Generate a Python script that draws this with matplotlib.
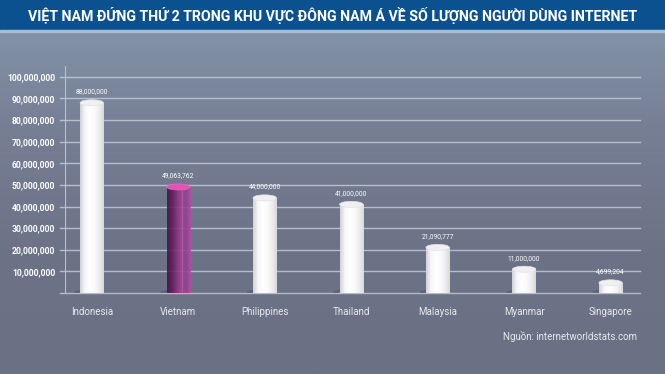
import numpy as np
import matplotlib
matplotlib.use("Agg")
import matplotlib.pyplot as plt
from matplotlib.patches import Ellipse, Rectangle
from matplotlib.colors import LinearSegmentedColormap

countries = ["Indonesia", "Vietnam", "Philippines", "Thailand", "Malaysia", "Myanmar", "Singapore"]
users = [88000000, 49063762, 44000000, 41000000, 21090777, 11000000, 4699204]
value_labels = ["88,000,000", "49,063,762", "44,000,000", "41,000,000", "21,090,777", "11,000,000", "4,699,204"]
highlight = "Vietnam"
yticks = [10000000 * i for i in range(1, 11)]
title = "VIỆT NAM ĐỨNG THỨ 2 TRONG KHU VỰC ĐÔNG NAM Á VỀ SỐ LƯỢNG NGƯỜI DÙNG INTERNET"
source = "Nguồn: internetworldstats.com"

W, H = 665, 374
fig = plt.figure(figsize=(W / 100, H / 100), dpi=100)
renderer = fig.canvas.get_renderer()

# background gradient
bg = fig.add_axes([0, 0, 1, 1], zorder=0)
bg.set_axis_off()
grad = np.linspace(0, 1, 256).reshape(-1, 1)
bg_cmap = LinearSegmentedColormap.from_list("bg", ["#8598ae", "#777f95", "#6c7387", "#6a7184"])
bg.imshow(grad, aspect="auto", cmap=bg_cmap, extent=[0, 1, 0, 1], origin="upper")
# title bar
bg.add_patch(Rectangle((0, 1 - 30 / H), 1, 30 / H, color="#0b5190", transform=bg.transAxes))
bg.add_patch(Rectangle((0, 1 - 32 / H), 1, 2 / H, color="#a9bdd2", transform=bg.transAxes))
bg.set_xlim(0, 1)
bg.set_ylim(0, 1)
t = fig.text(0.5, 1 - 16 / H, title, ha="center", va="center", color="white",
             fontsize=11, fontweight="bold", family=["Roboto", "DejaVu Sans"])
tw = t.get_window_extent(renderer).width
t.set_fontsize(11 * 609 / tw)
fig.text(637 / W, 1 - 337 / H, source, ha="right", va="center", color="#e6e9ee",
         fontsize=7, family=["Roboto", "DejaVu Sans"])

# main axes
left, right = 65 / W, 640 / W
bottom, top = (H - 293) / H, (H - 66) / H
ax = fig.add_axes([left, bottom, right - left, top - bottom], zorder=1)
ax.set_facecolor("none")
x = np.arange(len(countries))
xmin, xmax = -0.31, 6.34
ymax = 105000000
ax.set_xlim(xmin, xmax)
ax.set_ylim(0, ymax)
for s in ax.spines.values():
    s.set_visible(False)
ax.axvline(xmin, color="#b8c2d0", lw=0.8, zorder=1)

for yt in [0] + yticks:
    ax.plot([xmin - 0.06, xmax], [yt, yt], color="#c3cad6", lw=1.0, alpha=0.85,
            clip_on=False, zorder=1)

ax.set_yticks(yticks)
ax.set_yticklabels([f"{v:,}" for v in yticks], color="white", fontsize=6.2,
                   fontweight="bold", family=["Roboto", "DejaVu Sans"])
ax.tick_params(axis="y", length=0, pad=7)
ax.set_xticks(x)
ax.set_xticklabels(countries, color="#e6e9ee", fontsize=7.0, family=["Roboto", "DejaVu Sans"])
ax.tick_params(axis="x", length=0, pad=10)

bw = 0.27
eh = 2800000  # ellipse height in data units
white_cmap = LinearSegmentedColormap.from_list("w", ["#cfd1d5", "#f6f6f8", "#ffffff", "#fbfbfb", "#eceef0", "#d6d8dc"])
purple_cmap = LinearSegmentedColormap.from_list("p", ["#4a1245", "#5c1a57", "#84307c", "#9d4595", "#953f8d", "#b24fa6"])
hgrad = np.linspace(0, 1, 256).reshape(1, -1)

for xi, v, lab, name in zip(x, users, value_labels, countries):
    hl = name == highlight
    cmap = purple_cmap if hl else white_cmap
    cap = "#e055b4" if hl else "#f0f0f2"
    bot_c = "#dc4cae" if hl else "#eeeff1"
    # shadow
    ax.add_patch(Ellipse((xi - 0.06, 300000), bw * 1.1, eh * 0.9, color="#3e4352",
                         alpha=0.35, zorder=2, lw=0))
    # bottom ellipse
    ax.add_patch(Ellipse((xi, 0), bw, eh, facecolor=bot_c, edgecolor="none", zorder=3))
    # body
    rect = Rectangle((xi - bw / 2, 0), bw, v, facecolor="none", edgecolor="none")
    ax.add_patch(rect)
    im = ax.imshow(hgrad, cmap=cmap, aspect="auto", extent=[xi - bw / 2, xi + bw / 2, 0, v],
                   zorder=4, interpolation="bilinear", alpha=0.9 if hl else 1.0)
    im.set_clip_path(rect)
    if hl:
        ax.plot([xi + bw * 0.18, xi + bw * 0.18], [eh * 0.3, v - eh * 0.4], color="#c063b2",
                lw=0.7, alpha=0.6, zorder=5)
    # top ellipse
    ax.add_patch(Ellipse((xi, v), bw, eh, facecolor=cap,
                         edgecolor="#e2e3e7" if not hl else "#e868bd", lw=0.5, zorder=6))
    ax.text(xi, v + eh * 0.5 + 2000000, lab, ha="center", va="bottom", color="white",
            fontsize=4.8, family=["Roboto", "DejaVu Sans"], zorder=7)

ax.set_xlim(xmin, xmax)
ax.set_ylim(0, ymax)
fig.savefig("out.png", dpi=100)
